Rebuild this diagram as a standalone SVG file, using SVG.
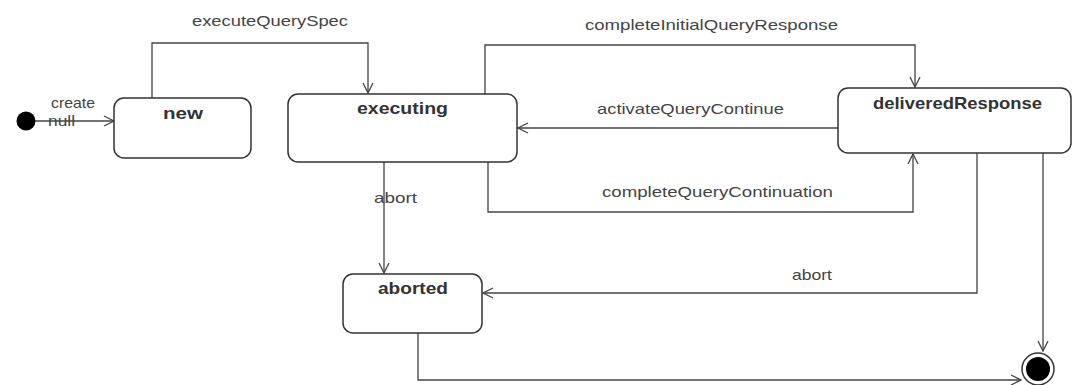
<svg xmlns="http://www.w3.org/2000/svg" width="1074" height="385" viewBox="0 0 1074 385">
<defs>
<style>
.node rect{fill:#fff;stroke:#333;stroke-width:1.5}
.name{font-family:"Liberation Sans",Arial,sans-serif;font-size:17px;font-weight:bold;fill:#333}
.lbl{font-family:"Liberation Sans",Arial,sans-serif;font-size:15px;fill:#444}
.edge{fill:none;stroke:#444;stroke-width:1.3}
</style>
<marker id="arr" viewBox="0 0 12 12" refX="11" refY="6" markerWidth="12" markerHeight="12" markerUnits="userSpaceOnUse" orient="auto">
<polyline points="1,1 11,6 1,11" fill="none" stroke="#444" stroke-width="1.3"/>
</marker>
</defs>
<rect width="1074" height="385" fill="#fff"/>
<g id="connectors">
<line class="edge" x1="35" y1="121" x2="114" y2="121" marker-end="url(#arr)"/>
<polyline class="edge" points="152,98 152,43 368,43 368,93" marker-end="url(#arr)"/>
<polyline class="edge" points="485,94 485,45 915,45 915,87" marker-end="url(#arr)"/>
<line class="edge" x1="838" y1="128" x2="518" y2="128" marker-end="url(#arr)"/>
<polyline class="edge" points="488,162 488,212 913,212 913,154" marker-end="url(#arr)"/>
<line class="edge" x1="384" y1="162" x2="384" y2="273" marker-end="url(#arr)"/>
<polyline class="edge" points="977,153 977,293 483,293" marker-end="url(#arr)"/>
<line class="edge" x1="1043" y1="153" x2="1043" y2="351" marker-end="url(#arr)"/>
<polyline class="edge" points="418,333 418,380 1021,380" marker-end="url(#arr)"/>
<text class="lbl" x="51" y="108" textLength="44" lengthAdjust="spacingAndGlyphs">create</text>
<text class="lbl" x="48" y="126" textLength="27" lengthAdjust="spacingAndGlyphs">null</text>
<text class="lbl" x="192" y="26" textLength="156" lengthAdjust="spacingAndGlyphs">executeQuerySpec</text>
<text class="lbl" x="585" y="30" textLength="253" lengthAdjust="spacingAndGlyphs">completeInitialQueryResponse</text>
<text class="lbl" x="597" y="114" textLength="187" lengthAdjust="spacingAndGlyphs">activateQueryContinue</text>
<text class="lbl" x="602" y="197" textLength="231" lengthAdjust="spacingAndGlyphs">completeQueryContinuation</text>
<text class="lbl" x="374" y="203" textLength="43" lengthAdjust="spacingAndGlyphs">abort</text>
<text class="lbl" x="792" y="280" textLength="40" lengthAdjust="spacingAndGlyphs">abort</text>
</g>
<g id="initial"><circle cx="26" cy="121" r="9.5" fill="#000"/></g>
<g id="new" class="node"><rect x="114" y="98" width="137" height="60" rx="10"/><text class="name" x="163" y="119" textLength="40" lengthAdjust="spacingAndGlyphs">new</text></g>
<g id="executing" class="node"><rect x="288" y="94" width="229" height="68" rx="10"/><text class="name" x="357" y="114" textLength="91" lengthAdjust="spacingAndGlyphs">executing</text></g>
<g id="deliveredResponse" class="node"><rect x="838" y="88" width="233" height="65" rx="10"/><text class="name" x="873" y="109" textLength="169" lengthAdjust="spacingAndGlyphs">deliveredResponse</text></g>
<g id="aborted" class="node"><rect x="343" y="274" width="139" height="59" rx="10"/><text class="name" x="378" y="294" textLength="70" lengthAdjust="spacingAndGlyphs">aborted</text></g>
<g id="final"><circle cx="1038" cy="369" r="16" fill="#fff" stroke="#333" stroke-width="1.5"/><circle cx="1038" cy="369" r="12" fill="#000"/></g>
</svg>
